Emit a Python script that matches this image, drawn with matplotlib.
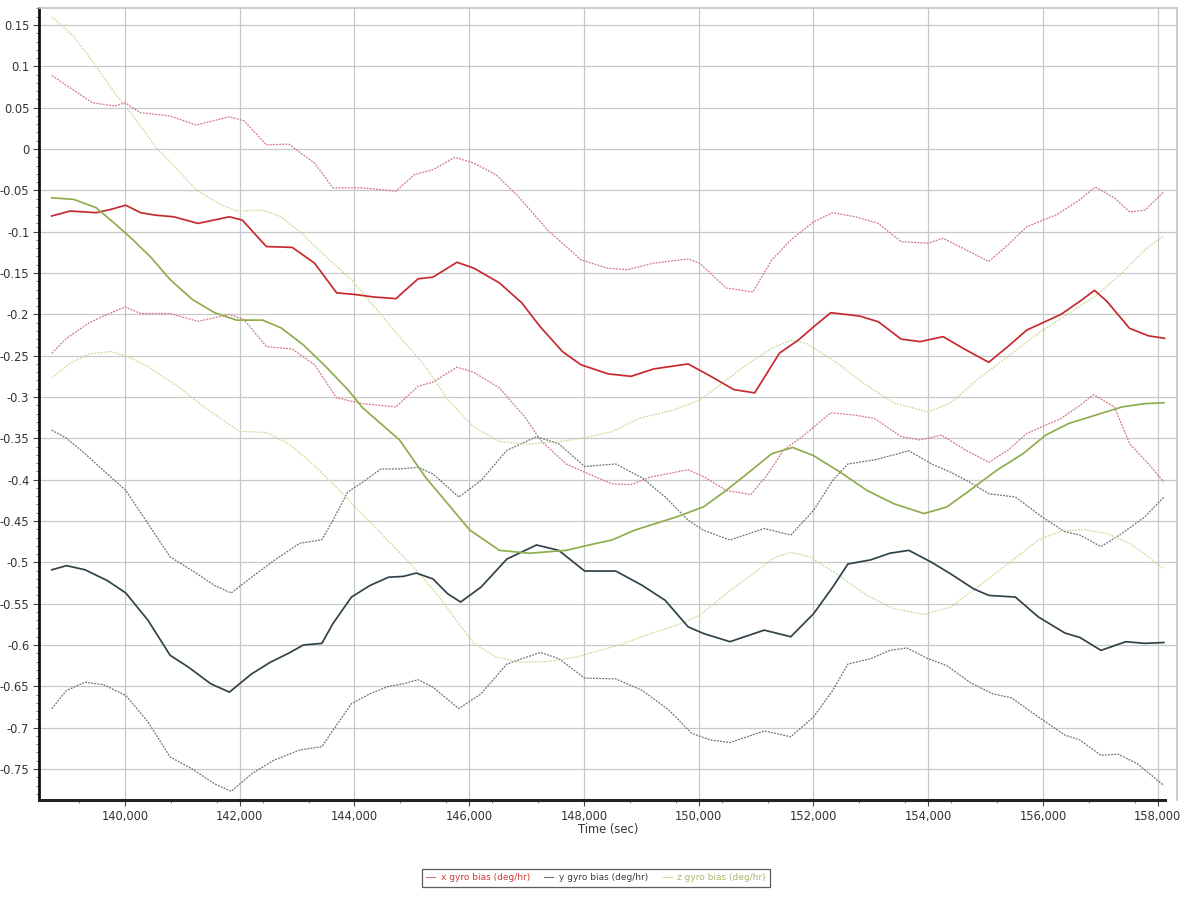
import matplotlib
matplotlib.use("Agg")
import matplotlib.pyplot as plt
from matplotlib.ticker import MultipleLocator, FuncFormatter

# time (sec) and gyro bias (deg/hr): estimate plus upper / lower 1-sigma bounds
x_hi_t = [138723, 138981, 139432, 139626, 139819, 140000, 140271, 140787, 141239, 141819,
          142077, 142464, 142851, 143303, 143625, 144141, 144722, 145044, 145367, 145754,
          146077, 146464, 146851, 147366, 147947, 148399, 148753, 149217, 149814, 150013,
          150478, 150942, 151274, 151605, 152003, 152335, 152733, 153131, 153529, 153994,
          154259, 154657, 155055, 155387, 155719, 156249, 156647, 156913, 157244, 157510,
          157775, 158107]
x_hi = [0.089, 0.077, 0.056, 0.054, 0.052, 0.056, 0.044, 0.040, 0.029, 0.039,
        0.034, 0.005, 0.006, -0.017, -0.047, -0.047, -0.051, -0.031, -0.025, -0.010,
        -0.017, -0.031, -0.057, -0.098, -0.134, -0.144, -0.146, -0.138, -0.133, -0.138,
        -0.168, -0.173, -0.134, -0.110, -0.088, -0.077, -0.082, -0.090, -0.112, -0.114,
        -0.108, -0.122, -0.136, -0.116, -0.094, -0.079, -0.061, -0.046, -0.059, -0.076,
        -0.074, -0.052]

x_mid_t = [138723, 139045, 139497, 139755, 140013, 140271, 140529, 140851, 141271, 141819,
           142045, 142464, 142915, 143303, 143689, 144012, 144334, 144722, 145108, 145367,
           145786, 146077, 146527, 146914, 147237, 147624, 147947, 148421, 148819, 149217,
           149814, 150212, 150610, 150975, 151406, 151738, 152003, 152302, 152800, 153131,
           153529, 153861, 154259, 154657, 155055, 155387, 155719, 156315, 156647, 156899,
           157111, 157510, 157841, 158120]
x_mid = [-0.081, -0.075, -0.077, -0.073, -0.068, -0.077, -0.080, -0.082, -0.090, -0.082,
         -0.086, -0.118, -0.119, -0.138, -0.174, -0.176, -0.179, -0.181, -0.157, -0.155,
         -0.137, -0.144, -0.162, -0.186, -0.215, -0.245, -0.261, -0.272, -0.275, -0.266,
         -0.260, -0.275, -0.291, -0.295, -0.247, -0.231, -0.215, -0.198, -0.202, -0.209,
         -0.230, -0.233, -0.227, -0.243, -0.258, -0.239, -0.219, -0.200, -0.184, -0.171,
         -0.184, -0.217, -0.226, -0.229]

x_lo_t = [138723, 138981, 139368, 139626, 140000, 140271, 140787, 141271, 141819, 142077,
          142464, 142915, 143303, 143689, 144141, 144722, 145108, 145367, 145786, 146077,
          146527, 146979, 147237, 147689, 148011, 148487, 148819, 149151, 149814, 150080,
          150478, 150909, 151207, 151473, 151805, 152302, 152733, 153065, 153529, 153861,
          154226, 154657, 155055, 155387, 155719, 156315, 156647, 156879, 157244, 157510,
          157841, 158107]
x_lo = [-0.247, -0.229, -0.2105, -0.202, -0.191, -0.199, -0.199, -0.2085, -0.200, -0.2065,
        -0.239, -0.242, -0.261, -0.301, -0.308, -0.312, -0.287, -0.282, -0.264, -0.270,
        -0.289, -0.325, -0.352, -0.381, -0.391, -0.405, -0.406, -0.397, -0.388, -0.396,
        -0.413, -0.418, -0.393, -0.3645, -0.348, -0.319, -0.322, -0.326, -0.348, -0.352,
        -0.346, -0.3645, -0.379, -0.3645, -0.344, -0.326, -0.310, -0.297, -0.312, -0.3565,
        -0.381, -0.403]

y_hi_t = [138723, 138981, 139303, 139626, 140013, 140400, 140787, 141174, 141561, 141851,
          142206, 142593, 143044, 143431, 143625, 143883, 144141, 144463, 144786, 145108,
          145367, 145818, 146205, 146656, 147172, 147560, 148011, 148553, 149018, 149416,
          149814, 150080, 150544, 151141, 151605, 152003, 152335, 152600, 153065, 153397,
          153662, 154060, 154392, 154723, 155055, 155519, 155984, 156382, 156647, 157011,
          157377, 157775, 158107]
y_hi = [-0.340, -0.350, -0.3685, -0.389, -0.413, -0.453, -0.4935, -0.510, -0.528, -0.537,
        -0.518, -0.498, -0.477, -0.4726, -0.449, -0.415, -0.403, -0.387, -0.387, -0.385,
        -0.393, -0.421, -0.401, -0.3645, -0.348, -0.3565, -0.384, -0.381, -0.398, -0.421,
        -0.449, -0.461, -0.473, -0.459, -0.467, -0.437, -0.401, -0.381, -0.376, -0.370,
        -0.365, -0.381, -0.391, -0.403, -0.417, -0.421, -0.445, -0.463, -0.467, -0.481,
        -0.465, -0.445, -0.421]

y_mid_t = [138723, 138981, 139303, 139690, 140013, 140400, 140787, 141110, 141497, 141819,
           142206, 142529, 142851, 143109, 143431, 143625, 143947, 144270, 144592, 144850,
           145076, 145367, 145624, 145850, 146205, 146656, 147172, 147560, 148011, 148553,
           149018, 149416, 149814, 150080, 150544, 151141, 151605, 152003, 152335, 152600,
           152998, 153330, 153662, 154060, 154392, 154790, 155055, 155519, 155918, 156382,
           156647, 157011, 157443, 157775, 158107]
y_mid = [-0.509, -0.504, -0.509, -0.522, -0.537, -0.570, -0.6125, -0.627, -0.647, -0.657,
         -0.635, -0.621, -0.610, -0.600, -0.598, -0.574, -0.542, -0.528, -0.518, -0.517,
         -0.513, -0.520, -0.538, -0.548, -0.530, -0.496, -0.479, -0.4855, -0.5105, -0.5105,
         -0.528, -0.546, -0.578, -0.586, -0.596, -0.582, -0.590, -0.562, -0.530, -0.502,
         -0.497, -0.489, -0.4855, -0.500, -0.514, -0.532, -0.540, -0.542, -0.566, -0.5855,
         -0.591, -0.6065, -0.596, -0.598, -0.597]

y_lo_t = [138723, 138981, 139303, 139626, 140013, 140400, 140787, 141174, 141561, 141851,
          142206, 142593, 143044, 143431, 143625, 143947, 144270, 144592, 144850, 145108,
          145367, 145818, 146205, 146656, 147237, 147560, 148011, 148553, 149018, 149483,
          149881, 150212, 150544, 151141, 151605, 152003, 152335, 152600, 152998, 153330,
          153629, 153994, 154325, 154723, 155121, 155453, 155918, 156382, 156647, 157011,
          157310, 157642, 158107]
y_lo = [-0.677, -0.655, -0.645, -0.648, -0.661, -0.693, -0.7355, -0.750, -0.768, -0.777,
        -0.756, -0.7395, -0.727, -0.723, -0.703, -0.671, -0.659, -0.650, -0.647, -0.642,
        -0.651, -0.677, -0.659, -0.623, -0.609, -0.6165, -0.640, -0.641, -0.655, -0.679,
        -0.707, -0.715, -0.718, -0.704, -0.711, -0.687, -0.655, -0.623, -0.6165, -0.6065,
        -0.6036, -0.6165, -0.625, -0.645, -0.659, -0.664, -0.687, -0.709, -0.715, -0.7335,
        -0.732, -0.7435, -0.770]

z_hi_t = [138723, 139110, 139497, 139819, 140142, 140529, 140916, 141239, 141626, 141948,
          142399, 142722, 143109, 143496, 143947, 144334, 144786, 145237, 145624, 146077,
          146527, 147043, 147689, 148089, 148487, 148952, 149549, 150013, 150411, 150876,
          151274, 151605, 151871, 152335, 152866, 153397, 153994, 154392, 154856, 155387,
          155918, 156382, 156913, 157377, 157775, 158107]
z_hi = [0.160, 0.136, 0.100, 0.068, 0.040, 0.003, -0.025, -0.049, -0.066, -0.075,
        -0.074, -0.082, -0.104, -0.130, -0.158, -0.190, -0.227, -0.263, -0.303, -0.336,
        -0.354, -0.357, -0.353, -0.348, -0.342, -0.326, -0.316, -0.304, -0.283, -0.259,
        -0.241, -0.2315, -0.235, -0.255, -0.283, -0.307, -0.318, -0.307, -0.279, -0.251,
        -0.223, -0.202, -0.178, -0.150, -0.122, -0.105]

z_mid_t = [138723, 139110, 139497, 139819, 140142, 140464, 140787, 141174, 141561, 141948,
           142399, 142722, 143109, 143496, 143883, 144141, 144786, 145237, 145624, 146011,
           146527, 147043, 147689, 148089, 148487, 148885, 149615, 150080, 150478, 150876,
           151274, 151639, 152003, 152468, 152932, 153397, 153927, 154325, 154723, 155187,
           155652, 156050, 156448, 156913, 157377, 157775, 158107]
z_mid = [-0.059, -0.061, -0.071, -0.090, -0.110, -0.132, -0.158, -0.182, -0.198, -0.207,
         -0.207, -0.2165, -0.237, -0.263, -0.291, -0.313, -0.352, -0.397, -0.429, -0.461,
         -0.4855, -0.489, -0.4855, -0.479, -0.473, -0.461, -0.445, -0.433, -0.413, -0.391,
         -0.3685, -0.361, -0.371, -0.391, -0.413, -0.429, -0.441, -0.433, -0.413, -0.389,
         -0.3685, -0.346, -0.332, -0.322, -0.312, -0.308, -0.307]

z_lo_t = [138723, 139045, 139368, 139755, 140013, 140400, 140916, 141432, 141993, 142464,
          142851, 143238, 143625, 144012, 144463, 144979, 145431, 145818, 146077, 146464,
          146851, 147366, 147882, 148089, 148620, 149085, 149615, 150013, 150478, 150942,
          151340, 151605, 151937, 152402, 152932, 153397, 153927, 154392, 154856, 155387,
          155918, 156315, 156713, 157111, 157510, 157841, 158107]
z_lo = [-0.277, -0.259, -0.248, -0.245, -0.250, -0.263, -0.287, -0.315, -0.3415, -0.343,
        -0.3565, -0.379, -0.405, -0.433, -0.465, -0.502, -0.538, -0.574, -0.598, -0.6145,
        -0.6206, -0.620, -0.6145, -0.610, -0.600, -0.588, -0.576, -0.564, -0.538, -0.514,
        -0.4935, -0.488, -0.4935, -0.514, -0.540, -0.556, -0.563, -0.554, -0.530, -0.502,
        -0.473, -0.462, -0.4605, -0.465, -0.477, -0.4935, -0.508]

labels = ["x gyro bias (deg/hr)", "y gyro bias (deg/hr)", "z gyro bias (deg/hr)"]
c_main = {"x": "#c62a30", "y": "#2f4349", "z": "#8fad4f"}
c_sig = {"x": "#d27482", "y": "#687277", "z": "#cdd998"}
c_text = {"x": "#d03a3a", "y": "#3a3a3a", "z": "#a6b86e"}

fig = plt.figure(figsize=(11.86, 8.99), dpi=100)
ax = fig.add_axes([39/1186, 1 - 800/899, 1138/1186, 792/899])

sig_style = dict(lw=0.9, ls=(0, (1.5, 1.0)))
ax.plot(x_hi_t, x_hi, color=c_sig["x"], **sig_style)
ax.plot(x_lo_t, x_lo, color=c_sig["x"], **sig_style)
ax.plot(y_hi_t, y_hi, color=c_sig["y"], **sig_style)
ax.plot(y_lo_t, y_lo, color=c_sig["y"], **sig_style)
ax.plot(z_hi_t, z_hi, color=c_sig["z"], **sig_style)
ax.plot(z_lo_t, z_lo, color=c_sig["z"], **sig_style)

lx, = ax.plot(x_mid_t, x_mid, color=c_main["x"], lw=1.25, label=labels[0])
ly, = ax.plot(y_mid_t, y_mid, color=c_main["y"], lw=1.25, label=labels[1])
lz, = ax.plot(z_mid_t, z_mid, color=c_main["z"], lw=1.25, label=labels[2])

ax.set_xlim(138501, 158336)
ax.set_ylim(-0.7875, 0.1706)

ax.xaxis.set_major_locator(MultipleLocator(2000))
ax.xaxis.set_minor_locator(MultipleLocator(800))
ax.yaxis.set_major_locator(MultipleLocator(0.05))
ax.yaxis.set_minor_locator(MultipleLocator(0.01))
ax.xaxis.set_major_formatter(FuncFormatter(lambda v, p: "{:,.0f}".format(v)))
ax.yaxis.set_major_formatter(FuncFormatter(lambda v, p: "%g" % round(v, 3) if abs(v) > 1e-9 else "0"))

ax.grid(True, which="major", color="#c8c8c8", lw=0.9)
ax.set_axisbelow(True)
ax.tick_params(axis="both", which="major", labelsize=8.3, labelcolor="#333333",
               length=4, width=0.8, color="#444444", pad=3)
ax.tick_params(axis="both", which="minor", length=2.5, width=0.6, color="#666666")

for side in ["top", "right"]:
    ax.spines[side].set_color("#c4c4c4")
    ax.spines[side].set_linewidth(1.2)
ax.spines["left"].set_linewidth(2)
ax.spines["bottom"].set_linewidth(2.2)
ax.spines["left"].set_color("#111111")
ax.spines["bottom"].set_color("#222222")
ax.spines["bottom"].set_bounds(138501, 158130)

ax.set_xlabel("Time (sec)", fontsize=8.3, color="#333333", labelpad=0)

leg = fig.legend(handles=[lx, ly, lz], loc="center", ncol=3,
                 bbox_to_anchor=(596/1186, 1 - 878/899), fontsize=6.5,
                 frameon=True, fancybox=False, handlelength=1.0, handletextpad=0.6,
                 columnspacing=1.6, borderpad=0.45)
leg.get_frame().set_edgecolor("#333333")
leg.get_frame().set_linewidth(0.9)
for h, key in zip(leg.get_lines(), ["x", "y", "z"]):
    h.set_linewidth(0.8)
    h.set_color(c_sig[key])
for txt, key in zip(leg.get_texts(), ["x", "y", "z"]):
    txt.set_color(c_text[key])

fig.savefig("out.png", dpi=100, facecolor="white")
